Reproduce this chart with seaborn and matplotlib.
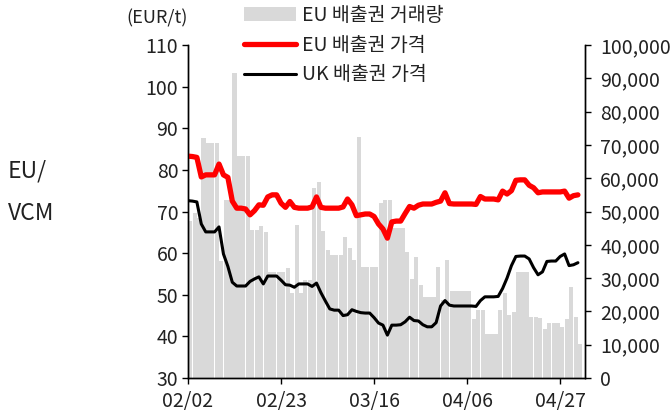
import numpy as np
import pandas as pd
import matplotlib
matplotlib.use("Agg")
import matplotlib.pyplot as plt
from matplotlib.ticker import FuncFormatter, MultipleLocator
from matplotlib.patches import Patch
from matplotlib.lines import Line2D
import seaborn as sns

# ---------------- data (daily, 02/02 .. 05/01) ----------------
eu_price = [83.3, 83.2, 83.0, 78.3, 78.8, 78.8, 78.8, 81.4, 78.8, 78.2,
            72.5, 70.8, 70.8, 70.6, 69.2, 70.2, 71.6, 71.5, 73.5, 74.0,
            74.0, 72.0, 71.0, 72.4, 71.0, 70.8, 70.8, 70.8, 71.1, 73.5,
            71.0, 70.8, 70.8, 70.8, 70.8, 71.1, 73.0, 71.6, 69.0, 69.2,
            69.4, 69.4, 68.8, 67.0, 65.8, 63.6, 67.5, 67.7, 67.7, 69.5,
            71.2, 70.8, 71.5, 71.8, 71.8, 71.8, 72.2, 72.5, 74.5, 71.9,
            71.8, 71.8, 71.8, 71.8, 71.8, 71.7, 73.6, 73.0, 73.0, 73.0,
            72.8, 74.9, 74.2, 75.0, 77.5, 77.6, 77.6, 76.3, 75.7, 74.5,
            74.7, 74.7, 74.7, 74.7, 74.7, 74.9, 73.2, 73.8, 74.0]

uk_price = [72.6, 72.5, 72.3, 67.0, 65.1, 65.1, 65.1, 66.3, 59.8, 56.8,
            53.0, 52.1, 52.1, 52.1, 53.2, 53.8, 54.3, 52.6, 54.5, 54.5,
            54.5, 53.5, 52.4, 52.3, 51.8, 52.6, 52.6, 52.6, 52.0, 52.8,
            50.5, 48.5, 46.6, 46.3, 46.3, 45.0, 45.2, 46.4, 46.0, 45.7,
            45.6, 45.6, 44.5, 43.2, 42.7, 40.3, 42.7, 42.7, 42.8, 43.5,
            44.6, 43.8, 43.7, 42.8, 42.3, 42.3, 43.3, 47.3, 48.6, 47.5,
            47.3, 47.3, 47.3, 47.3, 47.3, 47.2, 48.6, 49.5, 49.5, 49.5,
            49.6, 51.5, 54.0, 57.0, 59.2, 59.3, 59.3, 58.6, 56.5, 54.8,
            55.5, 58.0, 58.1, 58.1, 59.2, 59.8, 57.0, 57.2, 57.7]

eu_volume = [47000, 49500, 48000, 72000, 70500, 70500, 70500, 35000, 53500, 53500,
             91500, 66700, 66700, 66700, 44400, 44400, 45600, 43800, 31800, 31800,
             31800, 31800, 33000, 25500, 46000, 25500, 29400, 29400, 57000, 58900,
             44100, 38400, 36900, 36900, 36900, 42300, 39000, 35400, 72400, 33300,
             33300, 33300, 33300, 52500, 53500, 53500, 45000, 45000, 45000, 37800,
             29700, 36300, 27900, 24300, 24300, 24300, 33300, 23400, 35400, 26100,
             26100, 26100, 26100, 26100, 17700, 20400, 20400, 13200, 13200, 13200,
             20400, 25500, 18900, 19800, 31800, 31800, 31800, 18300, 18300, 18000,
             14700, 16500, 16500, 16500, 15300, 17700, 27300, 18300, 10200]

tick_days = [0, 21, 42, 63, 84]
tick_labels = ["02/02", "02/23", "03/16", "04/06", "04/27"]

legend_labels = ["EU 배출권 거래량", "EU 배출권 가격", "UK 배출권 가격"]

day = np.arange(len(eu_price))
df = pd.DataFrame({"day": day, "eu": eu_price, "uk": uk_price, "vol": eu_volume})

# ---------------- style ----------------
sns.set_style("ticks")
plt.rcParams["font.family"] = ["Noto Sans CJK KR", "DejaVu Sans"]
TXT = "#222222"
BAR = "#d9d9d9"

fig = plt.figure(figsize=(6.72, 4.17), dpi=100)
L, R, T, B = 188, 585, 45, 378
ax1 = fig.add_axes([L / 672, 1 - B / 417, (R - L) / 672, (B - T) / 417])

# bars (volume) on ax1 -> right axis
sns.barplot(data=df.assign(xc=df["day"] + 0.5), x="xc", y="vol", native_scale=True,
            color=BAR, saturation=1, linewidth=0, width=0.92, ax=ax1)

ax2 = ax1.twinx()
sns.lineplot(data=df, x="day", y="eu", color="#ff0000", lw=3.8, ax=ax2)
sns.lineplot(data=df, x="day", y="uk", color="#000000", lw=2.2, ax=ax2)

# axes placement
ax1.yaxis.tick_right()
ax1.yaxis.set_label_position("right")
ax2.yaxis.tick_left()
ax2.yaxis.set_label_position("left")

ax1.set_xlim(0, 89.6)
ax1.set_ylim(0, 100000)
ax2.set_ylim(30, 110)
ax1.yaxis.set_major_locator(MultipleLocator(10000))
ax1.yaxis.set_major_formatter(FuncFormatter(lambda v, p: f"{int(v):,}"))
ax2.yaxis.set_major_locator(MultipleLocator(10))
ax1.set_xticks(tick_days)
ax1.set_xticklabels(tick_labels)

for a in (ax1, ax2):
    a.set_xlabel("")
    a.set_ylabel("")
    a.spines["top"].set_visible(False)
    for s in ("left", "right", "bottom"):
        a.spines[s].set_visible(True)
        a.spines[s].set_color("black")
        a.spines[s].set_linewidth(1.0)
    a.tick_params(direction="out", length=4, width=1, colors="black",
                  labelcolor=TXT, labelsize=14, pad=3)
ax1.tick_params(axis="y", pad=7)
ax1.tick_params(axis="x", pad=5)

# legend
handles = [Patch(facecolor=BAR, edgecolor="none"),
           Line2D([], [], color="#ff0000", lw=3.8),
           Line2D([], [], color="#000000", lw=2.2)]
fig.legend(handles, legend_labels, loc="upper left",
           bbox_to_anchor=(226 / 672, 1.03), frameon=False, fontsize=14,
           handlelength=2.7, handleheight=0.7, handletextpad=0.3,
           labelspacing=0.45, labelcolor=TXT)

fig.text(126 / 672, 1 - 18 / 417, "(EUR/t)", fontsize=13, color=TXT,
         ha="left", va="center")
fig.text(8 / 672, 1 - 171 / 417, "EU/", fontsize=16.5, color=TXT,
         ha="left", va="center")
fig.text(8 / 672, 1 - 214 / 417, "VCM", fontsize=16.5, color=TXT,
         ha="left", va="center")

fig.savefig("out.png", dpi=100)
